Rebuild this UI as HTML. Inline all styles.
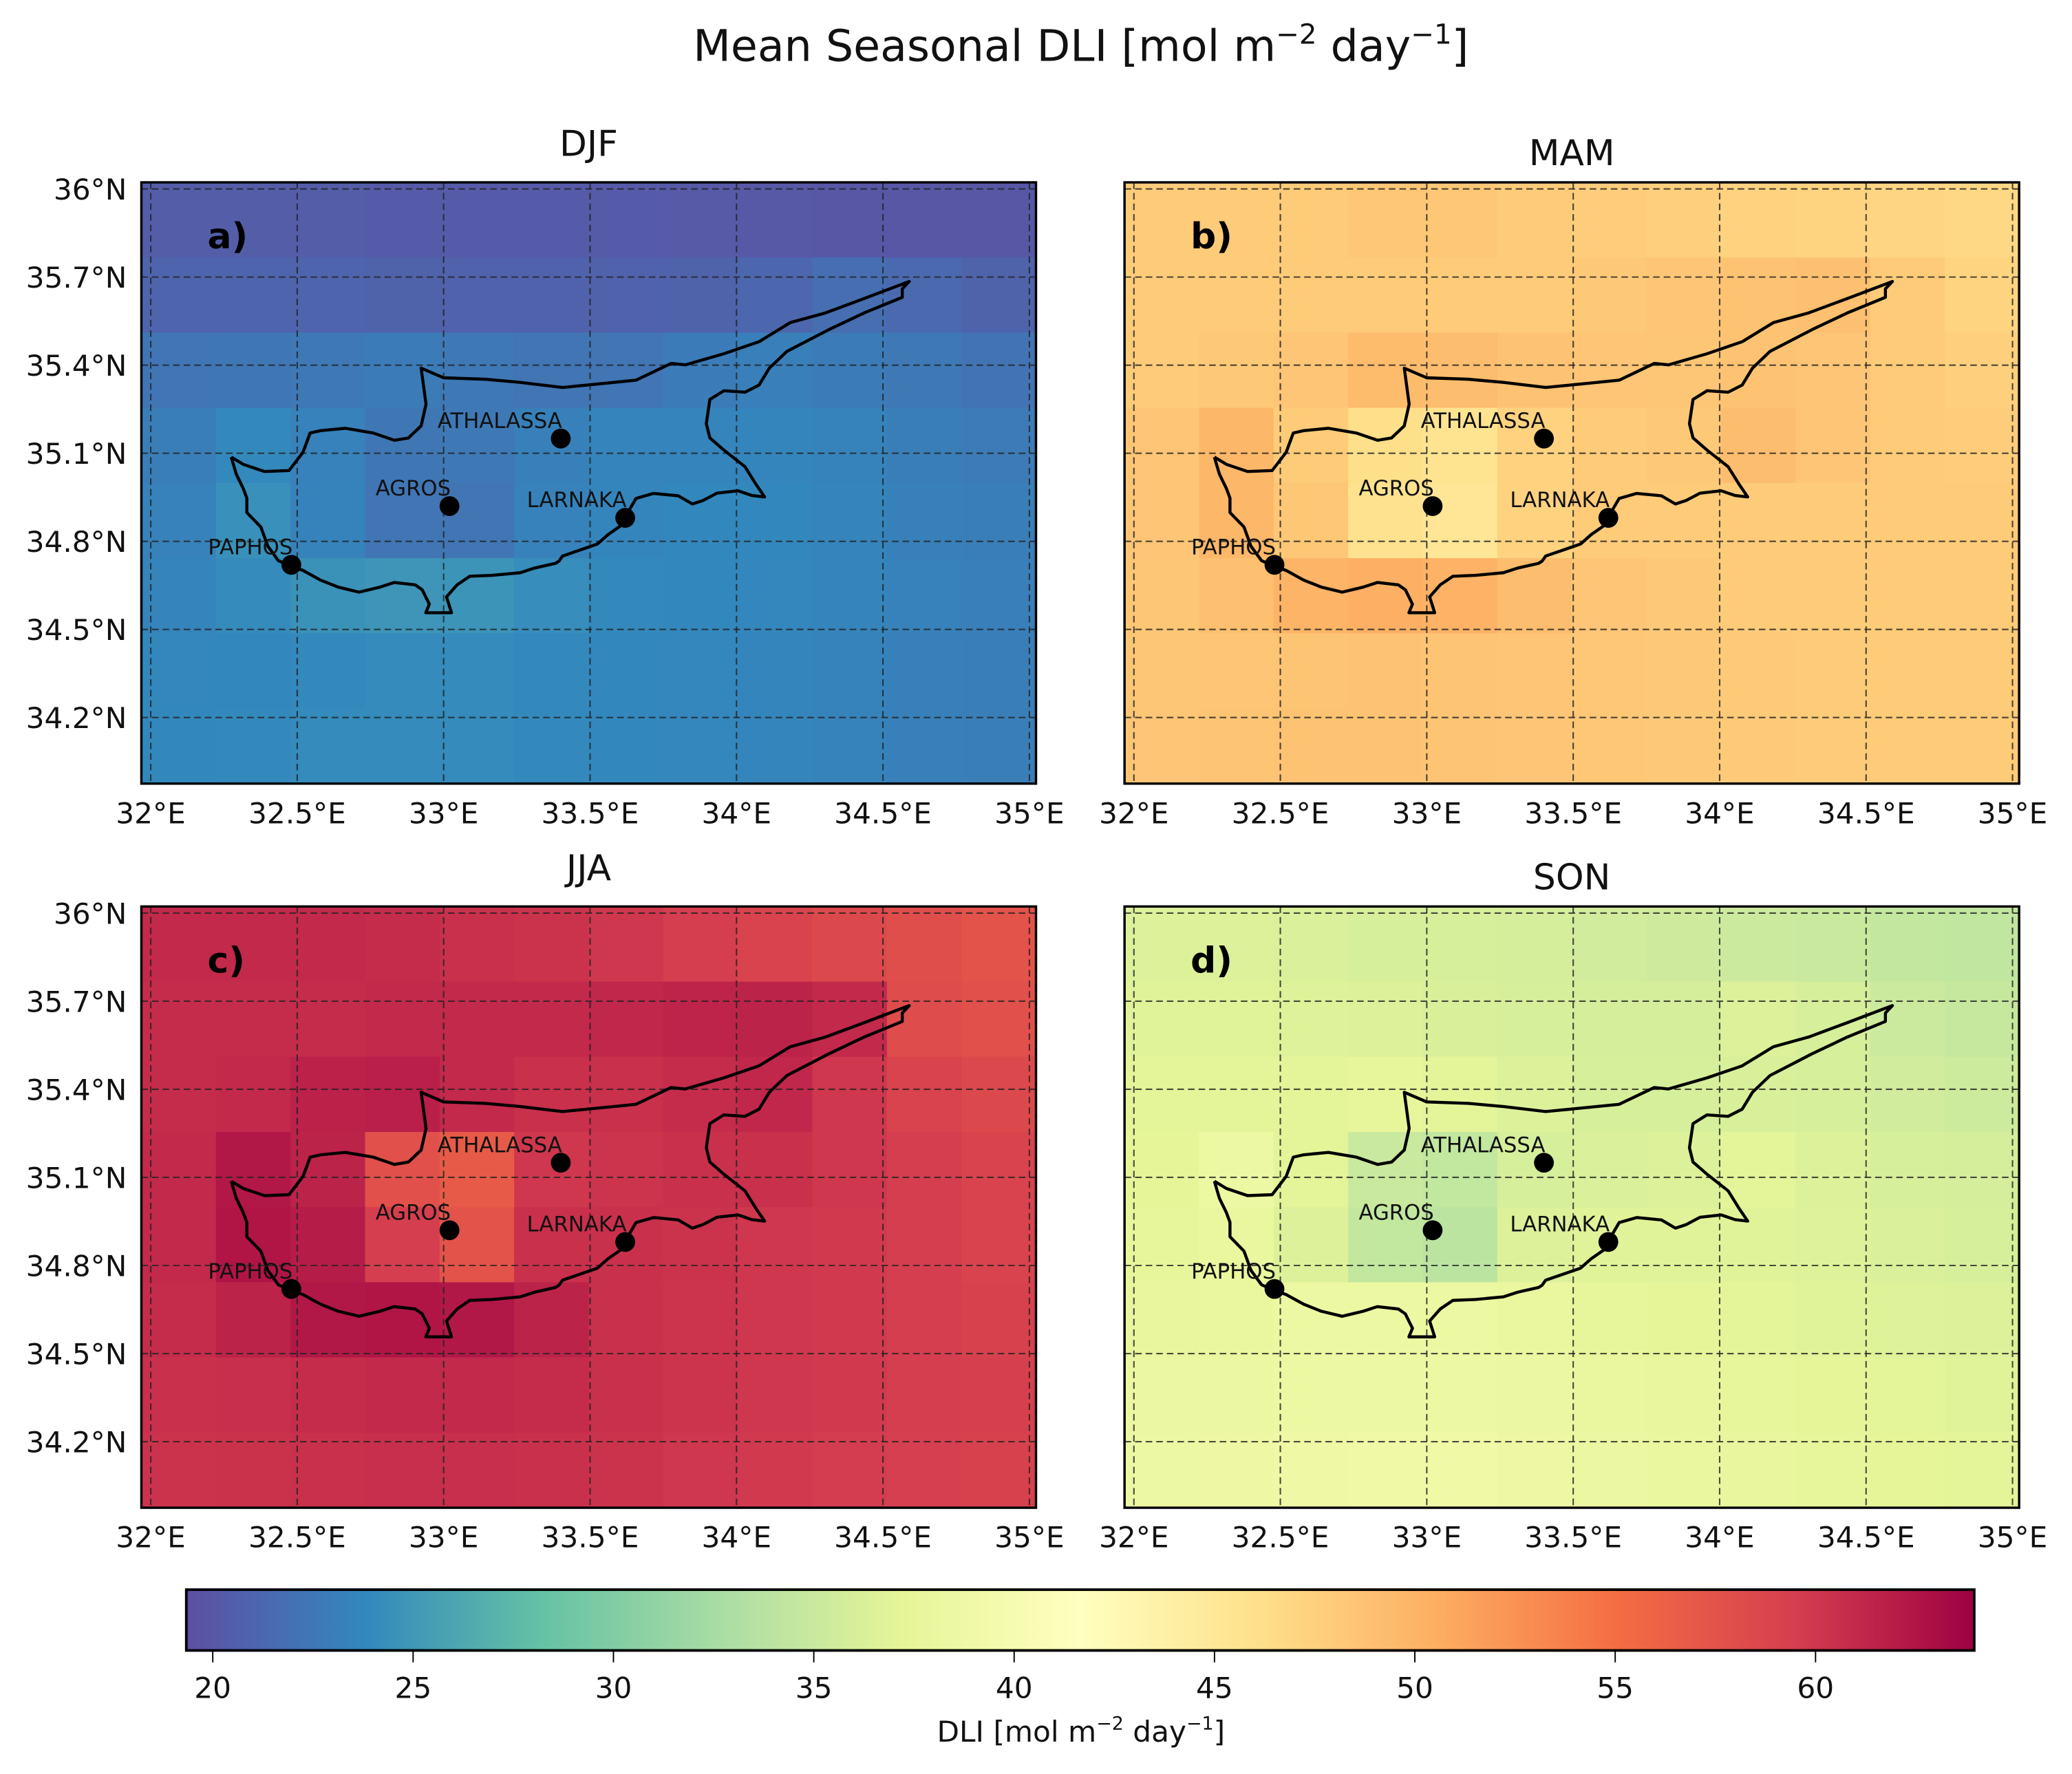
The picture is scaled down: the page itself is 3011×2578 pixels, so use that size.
<!DOCTYPE html>
<html><head><meta charset="utf-8">
<style>
html,body{margin:0;padding:0;background:#fff;}
svg{display:block;font-family:"DejaVu Sans","Liberation Sans",sans-serif;}
</style></head>
<body>
<svg id="fig" xmlns="http://www.w3.org/2000/svg" width="3011" height="2578" viewBox="0 0 1568 1342.5" preserveAspectRatio="none">
<text x="818" y="46" text-anchor="middle" font-size="33" fill="#111">Mean Seasonal DLI [mol m<tspan font-size="21" dy="-13">−2</tspan><tspan dy="13"> day</tspan><tspan font-size="21" dy="-13">−1</tspan><tspan dy="13">]</tspan></text>
<g id="panels"></g>
<g id="cbar"></g>
</svg>
<script>
// ---- data ----
const seasons = ["DJF","MAM","JJA","SON"];
const panelLetters = ["a)","b)","c)","d)"];
const lonTicks = [32,32.5,33,33.5,34,34.5,35];
const lonTickLabels = ["32°E","32.5°E","33°E","33.5°E","34°E","34.5°E","35°E"];
const latTicks = [36,35.7,35.4,35.1,34.8,34.5,34.2];
const latTickLabels = ["36°N","35.7°N","35.4°N","35.1°N","34.8°N","34.5°N","34.2°N"];
const cbarTicks = [20,25,30,35,40,45,50,55,60];
const stationNames = ["ATHALASSA","AGROS","LARNAKA","PAPHOS"];
const stationLon = [33.40,33.02,33.62,32.48];
const stationLat = [35.15,34.92,34.88,34.72];
const djf = [
[20.4,20.4,20.4,20.3,20.3,20.3,20.3,20.2,20.1,20.0,20.0,20.0],
[21.0,21.0,21.0,20.9,20.8,20.8,20.8,20.9,21.2,21.8,21.4,20.9],
[22.4,22.5,22.6,22.9,22.6,22.3,22.3,22.9,23.1,22.9,22.6,22.2],
[23.0,23.9,23.3,22.5,22.6,23.2,23.5,23.5,23.6,23.4,23.0,22.8],
[23.3,24.4,23.4,22.3,22.3,23.3,23.6,23.8,23.8,23.5,23.2,23.0],
[23.5,24.0,24.6,24.8,24.7,24.2,23.9,23.8,23.7,23.5,23.3,23.1],
[23.7,23.8,23.9,24.0,24.0,23.9,23.8,23.7,23.6,23.4,23.2,23.0],
[23.8,23.9,24.0,24.0,24.0,23.9,23.8,23.7,23.6,23.4,23.2,23.0]];
const mam = [
[48.0,48.0,48.0,48.3,48.3,48.0,47.8,47.6,47.4,47.2,47.0,46.8],
[48.0,48.0,48.0,48.0,48.0,48.0,48.2,48.5,48.8,49.0,48.0,47.2],
[48.0,48.2,48.5,49.4,49.2,48.8,48.5,48.4,48.7,48.5,48.0,47.5],
[48.5,49.8,48.0,46.2,45.6,47.4,48.0,48.2,49.2,48.5,48.0,47.8],
[48.5,49.8,48.3,45.8,45.2,47.4,48.0,48.0,48.0,48.0,48.0,48.0],
[48.4,49.0,50.0,50.4,50.2,49.2,48.5,48.2,48.0,48.0,48.0,48.0],
[48.4,48.5,48.6,48.7,48.6,48.5,48.3,48.2,48.1,48.0,48.0,48.0],
[48.5,48.6,48.7,48.7,48.6,48.5,48.3,48.2,48.1,48.0,48.0,48.0]];
const jja = [
[61.0,61.0,61.0,60.8,60.5,60.3,60.0,59.5,59.0,58.5,58.0,57.5],
[60.8,60.8,60.8,61.0,61.0,61.0,61.2,61.4,61.5,61.0,58.2,57.8],
[60.8,61.0,61.6,61.8,61.0,60.5,60.5,60.8,61.2,60.0,59.0,58.5],
[61.0,62.3,61.5,57.8,56.8,60.0,60.2,60.5,60.5,60.0,59.5,59.0],
[61.0,62.5,62.0,59.5,57.5,60.5,60.5,60.3,60.0,59.8,59.5,59.0],
[60.8,61.5,62.3,62.5,62.3,61.5,60.5,60.2,60.0,59.8,59.5,59.2],
[60.5,60.6,60.8,61.0,61.0,60.8,60.5,60.2,60.0,59.8,59.5,59.3],
[60.3,60.4,60.5,60.6,60.6,60.5,60.3,60.0,59.8,59.6,59.4,59.2]];
const son = [
[36.5,36.5,36.3,36.0,36.0,35.8,35.6,35.4,35.2,35.0,34.6,34.4],
[36.8,36.8,36.6,36.4,36.2,36.0,35.8,35.8,36.5,36.0,35.2,34.8],
[37.0,37.0,37.0,37.5,37.0,36.5,36.0,36.0,36.2,36.0,35.6,35.3],
[37.3,38.5,37.0,35.0,34.5,36.0,36.3,36.5,37.0,36.5,36.0,35.8],
[37.5,38.0,36.5,34.5,34.0,36.5,36.8,36.8,36.8,36.6,36.3,36.0],
[37.8,38.0,38.5,38.5,38.5,38.0,37.5,37.3,37.0,36.8,36.6,36.4],
[38.2,38.3,38.4,38.5,38.5,38.3,38.0,37.8,37.5,37.2,37.0,36.8],
[38.5,38.6,38.7,38.8,38.8,38.6,38.3,38.0,37.8,37.5,37.3,37.0]];
const fields = [djf, mam, jja, son];
// coastline (lon, lat)
const coastLon = [32.275,32.316,32.388,32.472,32.520,32.544,32.580,32.664,32.760,32.832,32.880,32.923,32.940,32.923,33.000,33.142,33.262,33.406,33.526,33.657,33.777,33.825,33.957,34.077,34.184,34.304,34.436,34.590,34.566,34.566,34.436,34.316,34.172,34.112,34.077,34.029,33.957,33.909,33.897,33.909,33.957,34.029,34.065,34.096,34.053,34.005,33.933,33.885,33.849,33.801,33.717,33.657,33.633,33.609,33.561,33.525,33.406,33.394,33.382,33.310,33.262,33.166,33.089,33.046,33.010,33.027,32.939,32.951,32.927,32.903,32.831,32.783,32.711,32.640,32.580,32.520,32.476,32.436,32.400,32.376,32.328,32.328,32.316,32.292,32.275];
const coastLat = [35.087,35.062,35.038,35.041,35.103,35.169,35.177,35.185,35.169,35.144,35.152,35.193,35.267,35.390,35.357,35.352,35.341,35.324,35.336,35.349,35.406,35.401,35.439,35.480,35.545,35.578,35.627,35.685,35.660,35.631,35.578,35.521,35.447,35.390,35.332,35.308,35.313,35.283,35.201,35.152,35.111,35.054,34.996,34.951,34.956,34.972,34.964,34.939,34.927,34.955,34.963,34.946,34.905,34.856,34.823,34.791,34.750,34.733,34.725,34.709,34.693,34.684,34.681,34.652,34.611,34.557,34.557,34.586,34.635,34.652,34.660,34.644,34.627,34.644,34.668,34.701,34.717,34.734,34.783,34.849,34.898,34.947,34.980,35.029,35.087];
// ---- layout / drawing ----
const NS = "http://www.w3.org/2000/svg";
const LON0 = 31.968, LON1 = 35.0226, LAT0 = 33.975, LAT1 = 36.0225;
const PW = 677, PH = 455;
const origins = [[107,138],[851,138],[107,686],[851,686]];
const VMIN = 19.34, VMAX = 63.96;
const spectralR = ["#5e4fa2","#3288bd","#66c2a5","#abdda4","#e6f598","#ffffbf","#fee08b","#fdae61","#f46d43","#d53e4f","#9e0142"];
function hex2rgb(h){return [1,3,5].map(i=>parseInt(h.substr(i,2),16));}
function cmap(v){
  let t = Math.max(0,Math.min(1,(v-VMIN)/(VMAX-VMIN)))*(spectralR.length-1);
  let i = Math.min(Math.floor(t), spectralR.length-2), f = t-i;
  const a=hex2rgb(spectralR[i]), b=hex2rgb(spectralR[i+1]);
  return "rgb("+a.map((c,k)=>Math.round(c+(b[k]-c)*f)).join(",")+")";
}
function el(tag, attrs, parent){
  const e=document.createElementNS(NS,tag);
  for(const k in attrs) e.setAttribute(k,attrs[k]);
  parent.appendChild(e); return e;
}
const panelsG = document.getElementById("panels");
fields.forEach((field, p)=>{
  const [ox, oy] = origins[p];
  const X = lon => ox + (lon-LON0)/(LON1-LON0)*PW;
  const Y = lat => oy + (LAT1-lat)/(LAT1-LAT0)*PH;
  const g = el("g",{},panelsG);
  
  
  const nr = field.length, nc = field[0].length;
  const dLon = (LON1-LON0)/nc, dLat = (LAT1-LAT0)/nr;
  field.forEach((row,r)=>row.forEach((v,c)=>{
    const x0 = X(LON0+c*dLon), x1 = X(LON0+(c+1)*dLon);
    const y0 = Y(LAT1-r*dLat), y1 = Y(LAT1-(r+1)*dLat);
    const cell = el("rect",{x:x0,y:y0,width:x1-x0+0.6,height:y1-y0+0.6,fill:cmap(v)},g);
    
    
  }));
  lonTicks.forEach(lon=>{
    const l = el("line",{x1:X(lon),x2:X(lon),y1:oy,y2:oy+PH,stroke:"#222","stroke-width":1.1,"stroke-dasharray":"5,3",opacity:0.8},g);
    
    
  });
  latTicks.forEach(lat=>{
    const l = el("line",{x1:ox,x2:ox+PW,y1:Y(lat),y2:Y(lat),stroke:"#222","stroke-width":1.1,"stroke-dasharray":"5,3",opacity:0.8},g);
    
    
  });
  const pts = coastLon.map((lon,i)=>X(lon).toFixed(1)+","+Y(coastLat[i]).toFixed(1)).join(" ");
  const coast = el("polyline",{points:pts,fill:"none",stroke:"#000","stroke-width":2.3,"stroke-linejoin":"round"},g);
  
  
  stationNames.forEach((n,i)=>{
    const d = el("circle",{cx:X(stationLon[i]),cy:Y(stationLat[i]),r:7.5,fill:"#000"},g);
    
    
    const t = el("text",{x:X(stationLon[i])+1,y:Y(stationLat[i])-8,"text-anchor":"end","font-size":16,fill:"#111"},g);
    t.textContent = n;
    
    
  });
  const fr = el("rect",{x:ox,y:oy,width:PW,height:PH,fill:"none",stroke:"#000","stroke-width":1.8},g);
  
  
  const lt = el("text",{x:ox+50,y:oy+50,"font-size":27,"font-weight":"bold",fill:"#000"},g);
  lt.textContent = panelLetters[p];
  
  
  const tt = el("text",{x:ox+PW/2,y:oy-(p%2===0?20:13),"text-anchor":"middle","font-size":27,fill:"#111"},g);
  tt.textContent = seasons[p];
  
  
  lonTicks.forEach((lon,i)=>{
    const t = el("text",{x:X(lon),y:oy+PH+30,"text-anchor":"middle","font-size":22,fill:"#111"},g);
    t.textContent = lonTickLabels[i];
    
    
  });
  if(p%2===0){
    latTicks.forEach((lat,i)=>{
      const t = el("text",{x:ox-11,y:Y(lat)+8,"text-anchor":"end","font-size":22,fill:"#111"},g);
      t.textContent = latTickLabels[i];
      
      
    });
  }
});
// colorbar
const cb = document.getElementById("cbar");


const CX0=141, CX1=1494, CY0=1203, CY1=1249;
const CV = v => CX0 + (v-VMIN)/(VMAX-VMIN)*(CX1-CX0);
const defs = el("defs",{},cb);
const lg = el("linearGradient",{id:"spec",x1:"0",x2:"1",y1:"0",y2:"0"},defs);
spectralR.forEach((c,i)=>el("stop",{offset:(i/(spectralR.length-1)),"stop-color":c},lg));
const bar = el("rect",{x:CX0,y:CY0,width:CX1-CX0,height:CY1-CY0,fill:"url(#spec)",stroke:"#000","stroke-width":2},cb);


cbarTicks.forEach(v=>{
  const tk = el("line",{x1:CV(v),x2:CV(v),y1:CY1,y2:CY1+9,stroke:"#000","stroke-width":1},cb);
  
  
  const t = el("text",{x:CV(v),y:CY1+36,"text-anchor":"middle","font-size":22,fill:"#111"},cb);
  t.textContent = String(v);
  
  
});
const cl = el("text",{x:818,y:1318,"text-anchor":"middle","font-size":22,fill:"#111"},cb);
cl.innerHTML = 'DLI [mol m<tspan font-size="14" dy="-9">−2</tspan><tspan dy="9"> day</tspan><tspan font-size="14" dy="-9">−1</tspan><tspan dy="9">]</tspan>';


</script>
</body></html>
